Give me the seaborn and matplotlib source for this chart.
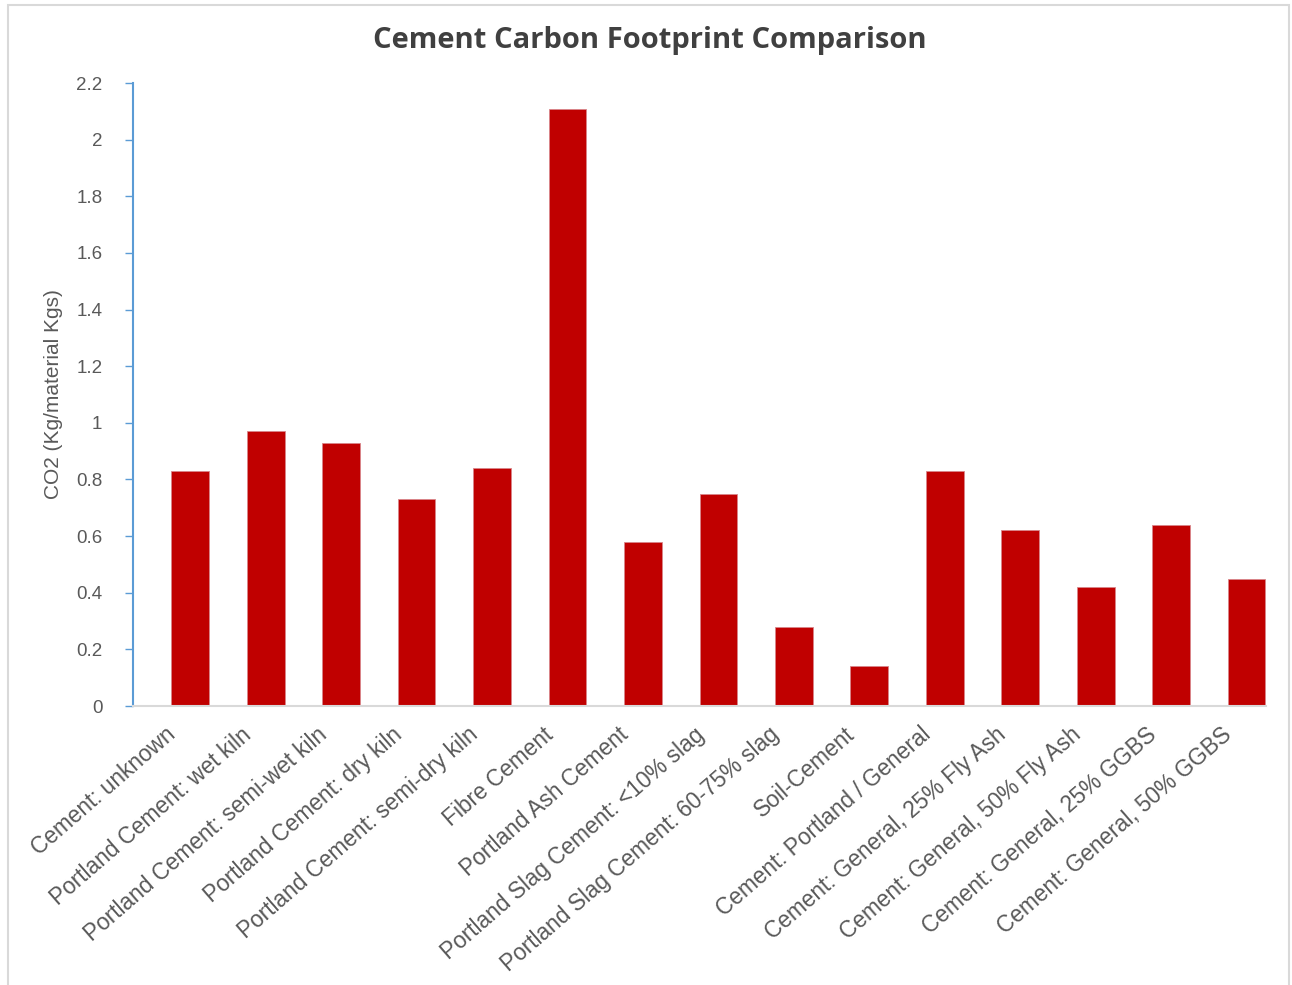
import matplotlib
matplotlib.use("Agg")
import matplotlib.pyplot as plt
import matplotlib.transforms as mtransforms
import seaborn as sns
import pandas as pd
from matplotlib.patches import Rectangle

# Embodied carbon of cement types (kg CO2 per kg of material)
categories = [
    "Cement: unknown",
    "Portland Cement: wet kiln",
    "Portland Cement: semi-wet kiln",
    "Portland Cement: dry kiln",
    "Portland Cement: semi-dry kiln",
    "Fibre Cement",
    "Portland Ash Cement",
    "Portland Slag Cement: <10% slag",
    "Portland Slag Cement: 60-75% slag",
    "Soil-Cement",
    "Cement: Portland / General",
    "Cement: General, 25% Fly Ash",
    "Cement: General, 50% Fly Ash",
    "Cement: General, 25% GGBS",
    "Cement: General, 50% GGBS",
]
co2 = [0.83, 0.97, 0.93, 0.73, 0.84, 2.11, 0.58, 0.75, 0.28, 0.14,
       0.83, 0.62, 0.42, 0.64, 0.45]
ytick_values = [0, 0.2, 0.4, 0.6, 0.8, 1.0, 1.2, 1.4, 1.6, 1.8, 2.0, 2.2]
ytick_labels = ["0", "0.2", "0.4", "0.6", "0.8", "1", "1.2", "1.4", "1.6",
                "1.8", "2", "2.2"]

df = pd.DataFrame({"material": categories, "co2": co2})

sns.set_theme(style="white")
plt.rcParams["font.family"] = ["Liberation Sans", "DejaVu Sans"]

fig = plt.figure(figsize=(12.92, 9.85), dpi=100)
ax = fig.add_axes([0.1029, 0.2832, 0.8771, 0.6325])

sns.barplot(data=df, x="material", y="co2", color="#C00000", width=0.5,
            saturation=1, edgecolor="#D9868A", linewidth=0.6, ax=ax)

ax.set_xlim(-0.76, 14.26)
ax.set_ylim(0, 2.2)
ax.set_yticks(ytick_values)
ax.set_yticklabels(ytick_labels)

text_color = "#595959"
ax.tick_params(axis="y", direction="out", length=6, width=1,
               color="#5B9BD5", labelcolor=text_color, labelsize=13.5,
               pad=16, left=True)
ax.tick_params(axis="x", length=0, labelcolor=text_color, labelsize=16.3,
               pad=0)

# rotated category labels, shifted so their ends sit just left of each bar
label_shift = mtransforms.ScaledTranslation(-0.25, -0.17, fig.dpi_scale_trans)
for lbl in ax.get_xticklabels():
    lbl.set_rotation(41)
    lbl.set_ha("right")
    lbl.set_va("top")
    lbl.set_rotation_mode("anchor")
    lbl.set_transform(lbl.get_transform() + label_shift)

for side in ("top", "right"):
    ax.spines[side].set_visible(False)
ax.spines["left"].set_color("#5B9BD5")
ax.spines["left"].set_linewidth(1.5)
ax.spines["bottom"].set_color("#D9D9D9")
ax.spines["bottom"].set_linewidth(1.5)

ax.set_xlabel("")
ax.set_ylabel("CO2 (Kg/material Kgs)", fontsize=15, color=text_color)
ax.yaxis.set_label_coords(-0.062, 0.5)

fig.text(0.503, 0.959, "Cement Carbon Footprint Comparison",
         ha="center", va="center", fontsize=21, fontweight="bold",
         color="#404040", family=["Open Sans", "DejaVu Sans"])

# light outer frame of the chart area
fig.patches.append(Rectangle((0.006, -0.01), 0.992, 1.005,
                             transform=fig.transFigure, fill=False,
                             edgecolor="#D9D9D9", linewidth=1.5))

fig.savefig("out.png", dpi=100, facecolor="white")
